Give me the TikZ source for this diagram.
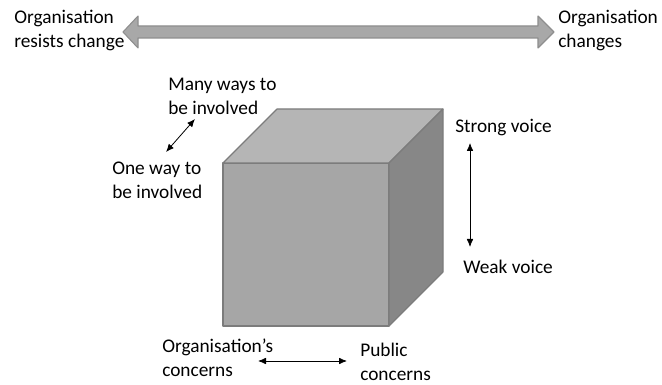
\documentclass[tikz,border=0pt]{standalone}
\usepackage{fontspec}
\setmainfont{Carlito}
\usetikzlibrary{arrows.meta}
\definecolor{cubetop}{HTML}{B5B5B5}
\definecolor{cubefront}{HTML}{A6A6A6}
\definecolor{cubeside}{HTML}{878787}
\definecolor{cubeedge}{HTML}{7C7C7C}
\definecolor{bigarrow}{HTML}{A8A8A8}
\definecolor{bigarrowedge}{HTML}{8E8E8E}
\tikzset{
  lbl/.style={anchor=west, align=left, inner sep=0pt, font=\fontsize{14.5}{18}\selectfont},
  axis/.style={<->, >={Latex[length=6pt,width=5pt]}, line width=0.6pt},
  face/.style={draw=cubeedge, line width=0.8pt, line join=round},
}
\begin{document}
\begin{tikzpicture}[x=0.75pt, y=-0.75pt]
  \useasboundingbox (0,0) rectangle (662,385);

  % wide arrow along the top
  \filldraw[fill=bigarrow, draw=bigarrowedge, line width=0.8pt, line join=round]
    (123,32) -- (138,16) -- (138,26) -- (538,26) -- (538,16) -- (554,32)
    -- (538,48) -- (538,38) -- (138,38) -- (138,48) -- cycle;
  \path (14,30) node[lbl] (resist) {Organisation\\resists change}
        (558,30) node[lbl] (changes) {Organisation\\changes};

  % the cube
  \path (223,163) coordinate (ftl) (389,163) coordinate (ftr)
        (389,326) coordinate (fbr) (223,326) coordinate (fbl)
        (277,109) coordinate (btl) (443,109) coordinate (btr)
        (443,272) coordinate (bbr);
  \filldraw[face, fill=cubefront] (ftl) -- (ftr) -- (fbr) -- (fbl) -- cycle;
  \filldraw[face, fill=cubetop] (ftl) -- (btl) -- (btr) -- (ftr) -- cycle;
  \filldraw[face, fill=cubeside] (ftr) -- (btr) -- (bbr) -- (fbr) -- cycle;

  % involvement
  \path (168,96) node[lbl] (many) {Many ways to\\be involved}
        (112,180) node[lbl] (one) {One way to\\be involved};
  \path (166,152) coordinate (one end) (195,119) coordinate (many end);
  \draw[axis] (one end) -- (many end);

  % voice
  \path (455,128) node[lbl] (strong) {Strong voice}
        (463,267) node[lbl] (weak) {Weak voice};
  \path (470,143) coordinate (strong end) (470,247) coordinate (weak end);
  \draw[axis] (strong end) -- (weak end);

  % concerns
  \path (162,358) node[lbl] (orgc) {Organisation’s\\concerns}
        (360,362) node[lbl] (pubc) {Public\\concerns};
  \path (258,361) coordinate (orgc end) (347,361) coordinate (pubc end);
  \draw[axis] (orgc end) -- (pubc end);
\end{tikzpicture}
\end{document}
